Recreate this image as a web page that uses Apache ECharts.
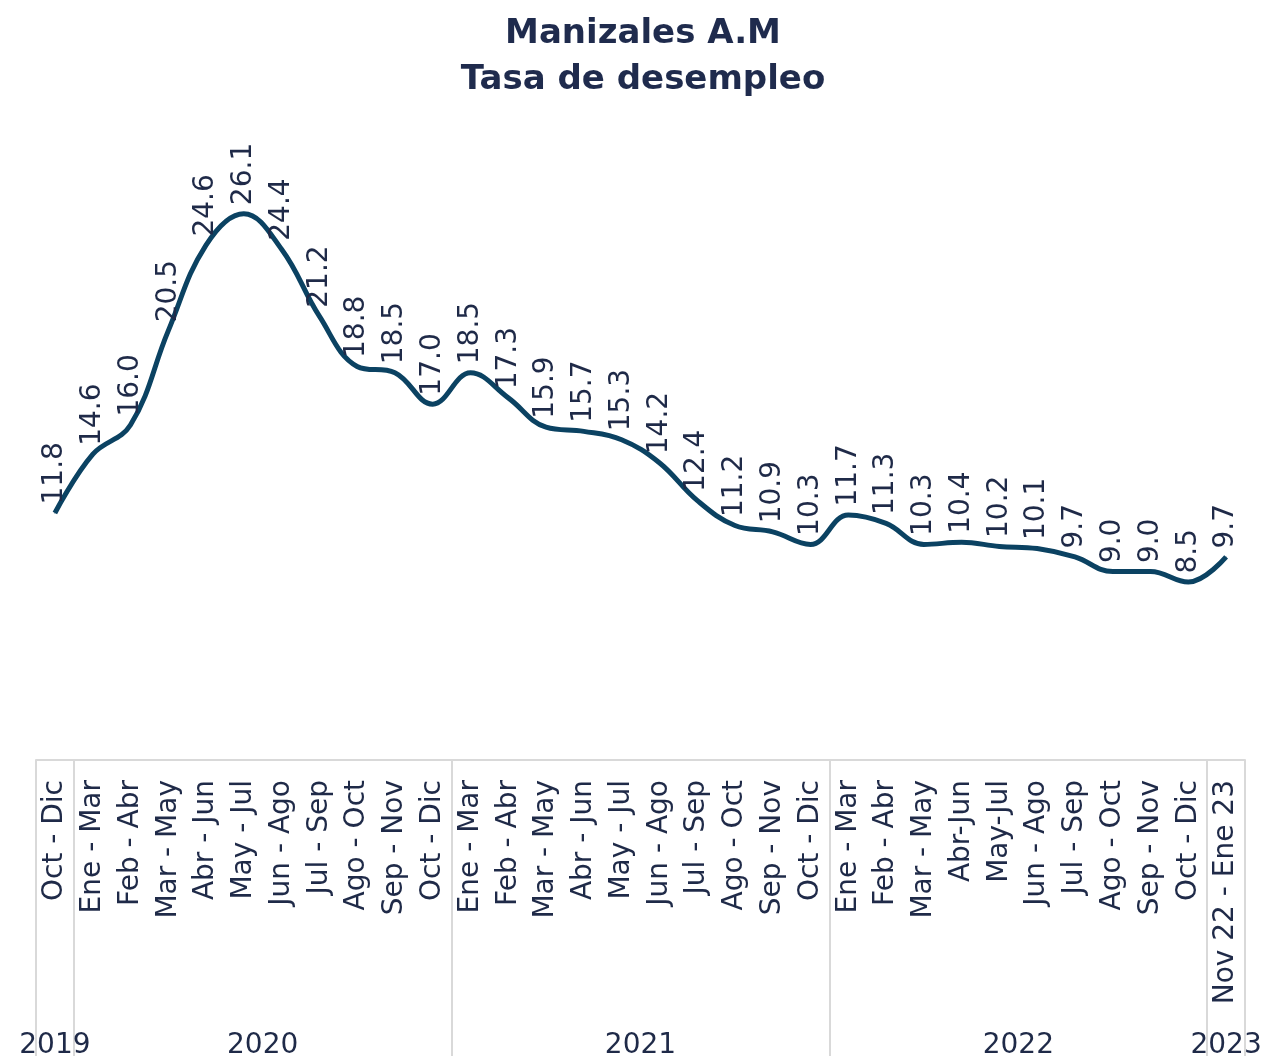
<!DOCTYPE html>
<html>
<head>
<meta charset="utf-8">
<script src="https://cdn.jsdelivr.net/npm/echarts@6/dist/echarts.min.js"></script>
<style>
  html, body { margin: 0; padding: 0; background: #fff; }
  #chart { width: 1286px; height: 1060px; }
</style>
</head>
<body>
<div id="chart"></div>
<script>
'use strict';
const periods = ['Oct - Dic',
  'Ene - Mar', 'Feb - Abr', 'Mar - May', 'Abr - Jun', 'May - Jul', 'Jun - Ago', 'Jul - Sep', 'Ago - Oct', 'Sep - Nov', 'Oct - Dic',
  'Ene - Mar', 'Feb - Abr', 'Mar - May', 'Abr - Jun', 'May - Jul', 'Jun - Ago', 'Jul - Sep', 'Ago - Oct', 'Sep - Nov', 'Oct - Dic',
  'Ene - Mar', 'Feb - Abr', 'Mar - May', 'Abr-Jun', 'May-Jul', 'Jun - Ago', 'Jul - Sep', 'Ago - Oct', 'Sep - Nov', 'Oct - Dic',
  'Nov 22 - Ene 23'];
const tasa = [11.8, 14.6, 16.0, 20.5, 24.6, 26.1, 24.4, 21.2, 18.8, 18.5, 17.0,
  18.5, 17.3, 15.9, 15.7, 15.3, 14.2, 12.4, 11.2, 10.9, 10.3,
  11.7, 11.3, 10.3, 10.4, 10.2, 10.1, 9.7, 9.0, 9.0, 8.5, 9.7];
// year groups and how many periods each one holds
const years = ['2019', '2020', '2021', '2022', '2023'];
const yearCounts = [1, 10, 10, 10, 1];

let bounds = [0];
let centers = [];
yearCounts.forEach((c) => {
  let start = bounds[bounds.length - 1];
  centers.push(start + c / 2);
  bounds.push(start + c);
});

const textColor = '#1f2a48';
const font = '"DejaVu Sans", sans-serif';

let instance = echarts.init(document.getElementById('chart'));
instance.setOption({
  animation: false,
  title: {
    text: 'Manizales A.M\nTasa de desempleo',
    left: 'center',
    top: 6,
    textStyle: {
      color: '#1f2b4d',
      fontFamily: font,
      fontWeight: 'bold',
      fontSize: 34,
      lineHeight: 46
    }
  },
  grid: {
    left: 36,
    right: 41,
    top: 132,
    bottom: 295
  },
  xAxis: [{
    type: 'category',
    data: periods,
    position: 'bottom',
    axisLine: { lineStyle: { color: '#d9d9d9', width: 2 } },
    axisTick: { show: false },
    axisLabel: {
      interval: 0,
      rotate: 90,
      margin: 20,
      color: textColor,
      fontFamily: font,
      fontSize: 28
    }
  }, {
    type: 'value',
    min: 0,
    max: periods.length,
    position: 'bottom',
    axisLine: { show: false },
    splitLine: { show: false },
    axisTick: {
      show: true,
      customValues: bounds,
      length: 296,
      lineStyle: { color: '#d9d9d9', width: 2 }
    },
    axisLabel: {
      customValues: centers,
      margin: 272,
      color: textColor,
      fontFamily: font,
      fontSize: 28,
      formatter: (v) => years[centers.indexOf(v)] || ''
    }
  }],
  yAxis: {
    type: 'value',
    min: 0,
    max: 30,
    show: false
  },
  series: [{
    type: 'line',
    data: tasa,
    smooth: 0.4,
    symbol: 'circle',
    symbolSize: 1,
    itemStyle: { color: '#0b4262' },
    lineStyle: { color: '#0b4262', width: 5 },
    label: {
      show: true,
      position: 'top',
      rotate: 90,
      align: 'left',
      verticalAlign: 'middle',
      distance: 8,
      color: textColor,
      fontFamily: font,
      fontSize: 28,
      formatter: (p) => p.value.toFixed(1)
    }
  }]
});
window.onresize = () => {
  instance.resize();
};
</script>
</body>
</html>
